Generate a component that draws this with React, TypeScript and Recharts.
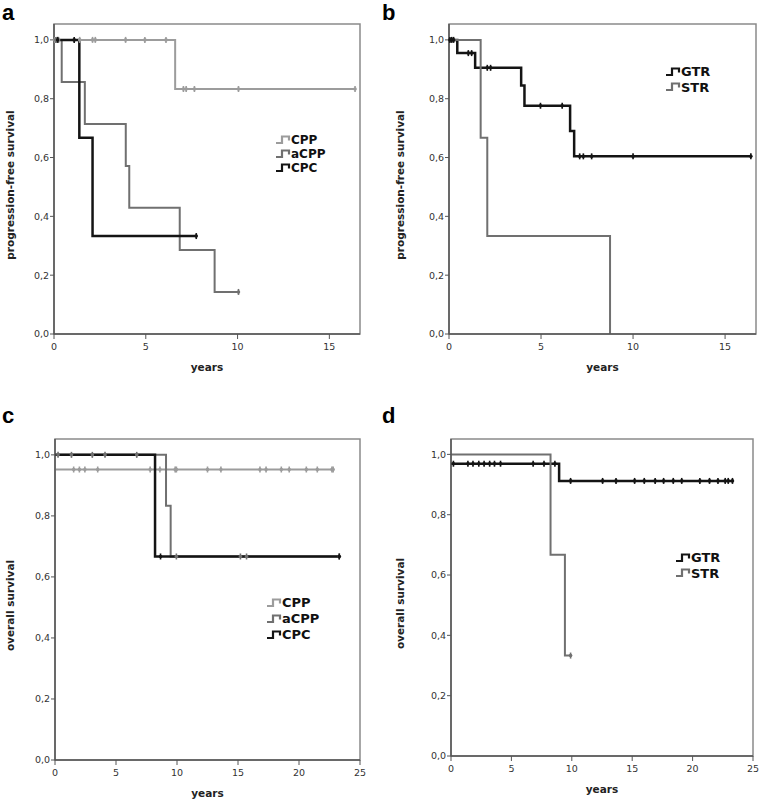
import React from "react";
import { LineChart, Line, XAxis, YAxis, ReferenceArea, Label } from "recharts";

// [time in years, survival, censored (1) or event (0)]
type KM = [number, number, number];

// a – progression-free survival by histology
const pfsCPP: KM[] = [
  [0, 1, 0], [0.05, 1, 1], [0.15, 1, 1], [0.25, 1, 1], [1.4, 1, 1], [2.1, 1, 1], [2.25, 1, 1],
  [3.9, 1, 1], [4.95, 1, 1], [6.1, 1, 1], [6.6, 0.833, 0], [7.05, 0.833, 1], [7.2, 0.833, 1],
  [7.65, 0.833, 1], [10.05, 0.833, 1], [16.4, 0.833, 1],
];
const pfsACPP: KM[] = [
  [0, 1, 0], [0.1, 1, 1], [0.42, 0.857, 0], [1.68, 0.714, 0], [3.91, 0.571, 0], [4.1, 0.429, 0],
  [6.85, 0.286, 0], [8.75, 0.143, 0], [10.05, 0.143, 1],
];
const pfsCPC: KM[] = [
  [0, 1, 0], [0.2, 1, 1], [1.1, 1, 1], [1.38, 0.667, 0], [2.1, 0.333, 0], [7.75, 0.333, 1],
];

// b – progression-free survival by extent of resection
const pfsGTR: KM[] = [
  [0, 1, 0], [0.05, 1, 1], [0.15, 1, 1], [0.25, 1, 1], [0.45, 0.955, 0], [1.05, 0.955, 1],
  [1.23, 0.955, 1], [1.42, 0.905, 0], [2.08, 0.905, 1], [2.26, 0.905, 1], [3.92, 0.845, 0],
  [4.1, 0.776, 0], [4.97, 0.776, 1], [6.15, 0.776, 1], [6.58, 0.69, 0], [6.8, 0.604, 0],
  [7.1, 0.604, 1], [7.3, 0.604, 1], [7.75, 0.604, 1], [10.0, 0.604, 1], [16.4, 0.604, 1],
];
const pfsSTR: KM[] = [
  [0, 1, 0], [1.72, 0.667, 0], [2.08, 0.333, 0], [8.75, 0, 0],
];

// c – overall survival by histology
const osCPP: KM[] = [
  [0, 0.952, 0], [1.53, 0.952, 1], [2.0, 0.952, 1], [2.45, 0.952, 1], [3.5, 0.952, 1],
  [7.8, 0.952, 1], [8.6, 0.952, 1], [9.85, 0.952, 1], [9.95, 0.952, 1], [12.5, 0.952, 1],
  [13.6, 0.952, 1], [16.8, 0.952, 1], [17.3, 0.952, 1], [18.55, 0.952, 1], [19.2, 0.952, 1],
  [20.6, 0.952, 1], [21.5, 0.952, 1], [22.7, 0.952, 1], [22.8, 0.952, 1],
];
const osACPP: KM[] = [
  [0, 1, 0], [0.25, 1, 1], [1.35, 1, 1], [3.06, 1, 1], [4.1, 1, 1], [6.7, 1, 1],
  [9.1, 0.833, 0], [9.48, 0.667, 0], [9.95, 0.667, 1], [15.2, 0.667, 1], [15.7, 0.667, 1],
  [23.3, 0.667, 1],
];
const osCPC: KM[] = [
  [0, 1, 0], [8.2, 0.667, 0], [8.65, 0.667, 1], [23.3, 0.667, 1],
];

// d – overall survival by extent of resection
const osGTR: KM[] = [
  [0, 0.969, 0], [0.2, 0.969, 1], [1.4, 0.969, 1], [1.82, 0.969, 1], [2.3, 0.969, 1],
  [2.74, 0.969, 1], [3.2, 0.969, 1], [3.6, 0.969, 1], [4.1, 0.969, 1], [6.8, 0.969, 1],
  [7.7, 0.969, 1], [8.6, 0.969, 1], [8.95, 0.912, 0], [9.9, 0.912, 1], [12.55, 0.912, 1],
  [13.66, 0.912, 1], [15.2, 0.912, 1], [16.0, 0.912, 1], [16.9, 0.912, 1], [17.6, 0.912, 1],
  [18.4, 0.912, 1], [19.1, 0.912, 1], [20.6, 0.912, 1], [21.4, 0.912, 1], [22.1, 0.912, 1],
  [22.7, 0.912, 1], [22.95, 0.912, 1], [23.3, 0.912, 1],
];
const osSTR: KM[] = [
  [0, 1, 0], [8.24, 0.667, 0], [9.43, 0.333, 0], [9.9, 0.333, 1],
];

const yTicks = [0, 0.2, 0.4, 0.6, 0.8, 1.0];
const pfsXTicks = [0, 5, 10, 15];
const osXTicks = [0, 5, 10, 15, 20, 25];

const LIGHT = "#9c9c9c";
const MID = "#707070";
const DARK = "#141414";
const FONT = "DejaVu Sans, Verdana, sans-serif";

interface Series {
  name: string;
  points: KM[];
  color: string;
  width: number;
}

interface PanelProps {
  letter: string;
  left: number;
  top: number;
  width: number;
  height: number;
  margin: { top: number; right: number; bottom: number; left: number };
  yWidth: number;
  xMax: number;
  yMax: number;
  xTicks: number[];
  yLabel: string;
  yLabelX: number;
  series: Series[];
  legend: { x: number; y: number; rowH: number; font: number };
  letterTop: number;
}

const toData = (pts: KM[]) => pts.map(([t, s, c]) => ({ t, s, c }));

// SPSS-style censor tick
const censorDot = (color: string) => (props: any) => {
  const { cx, cy, payload, index } = props;
  if (!payload || !payload.c) return <g key={`n${index}`} />;
  return (
    <g key={`c${index}`}>
      <line x1={cx} x2={cx} y1={cy - 3} y2={cy + 3} stroke={color} strokeWidth={1.6} />
      <circle cx={cx} cy={cy} r={1.8} fill={color} />
    </g>
  );
};

function LegendIcon({ color }: { color: string }) {
  return (
    <svg width={15} height={12} style={{ display: "block", flex: "none" }}>
      <path d="M0,9 H6 V2.5 H13 V6.5" fill="none" stroke={color} strokeWidth={2.2} />
    </svg>
  );
}

function Panel(p: PanelProps) {
  return (
    <div style={{ position: "absolute", left: p.left, top: p.top, width: p.width, height: p.height }}>
      <LineChart width={p.width} height={p.height} margin={p.margin}>
        <ReferenceArea
          x1={0}
          x2={p.xMax}
          y1={0}
          y2={p.yMax}
          fill="none"
          stroke="#8a8a8a"
          strokeWidth={1.5}
        />
        <XAxis
          type="number"
          dataKey="t"
          domain={[0, p.xMax]}
          ticks={p.xTicks}
          height={30}
          tickSize={5}
          tickMargin={4}
          axisLine={{ stroke: "#555", strokeWidth: 1.5 }}
          tickLine={{ stroke: "#555" }}
          tick={{ fill: "#333", fontSize: 9.5, fontFamily: FONT }}
        >
          <Label
            content={(lp: any) => {
              const vb = lp.viewBox;
              return (
                <text
                  x={vb.x + vb.width / 2}
                  y={vb.y + 37}
                  textAnchor="middle"
                  fontFamily={FONT}
                  fontWeight="bold"
                  fontSize={10.5}
                  fill="#222"
                >
                  years
                </text>
              );
            }}
          />
        </XAxis>
        <YAxis
          type="number"
          domain={[0, p.yMax]}
          ticks={yTicks}
          width={p.yWidth}
          tickSize={4}
          tickMargin={1}
          tickFormatter={(v: number) => v.toFixed(1).replace(".", ",")}
          axisLine={{ stroke: "#555", strokeWidth: 1.5 }}
          tickLine={{ stroke: "#555" }}
          tick={{ fill: "#333", fontSize: 9.5, fontFamily: FONT }}
        >
          <Label
            content={(lp: any) => {
              const vb = lp.viewBox;
              const cy = vb.y + vb.height / 2 + 6;
              return (
                <text
                  x={p.yLabelX}
                  y={cy}
                  transform={`rotate(-90, ${p.yLabelX}, ${cy})`}
                  textAnchor="middle"
                  dominantBaseline="central"
                  fontFamily={FONT}
                  fontWeight="bold"
                  fontSize={10.5}
                  fill="#222"
                >
                  {p.yLabel}
                </text>
              );
            }}
          />
        </YAxis>
        {p.series.map((s) => (
          <Line
            key={s.name}
            data={toData(s.points)}
            dataKey="s"
            type="stepAfter"
            stroke={s.color}
            strokeWidth={s.width}
            dot={censorDot(s.color)}
            activeDot={false}
            isAnimationActive={false}
          />
        ))}
      </LineChart>
      <div
        style={{
          position: "absolute",
          left: p.legend.x,
          top: p.legend.y,
          fontFamily: FONT,
          fontWeight: "bold",
          fontSize: p.legend.font,
          color: "#111",
        }}
      >
        {p.series.map((s) => (
          <div key={s.name} style={{ display: "flex", alignItems: "center", height: p.legend.rowH }}>
            <LegendIcon color={s.color} />
            <span style={{ lineHeight: `${p.legend.rowH}px` }}>{s.name}</span>
          </div>
        ))}
      </div>
      <div
        style={{
          position: "absolute",
          left: 2,
          top: p.letterTop,
          fontFamily: "Liberation Sans, Arial, sans-serif",
          fontWeight: "bold",
          fontSize: 22,
          lineHeight: "26px",
          color: "#000",
        }}
      >
        {p.letter}
      </div>
    </div>
  );
}

export default function App() {
  return (
    <div style={{ position: "absolute", left: 0, top: 0, width: 761, height: 801, background: "#fff" }}>
      <Panel
        letter="a"
        letterTop={0}
        left={0}
        top={0}
        width={380}
        height={400}
        margin={{ top: 24, right: 20, bottom: 36, left: 0 }}
        yWidth={54}
        xMax={16.67}
        yMax={1.054}
        xTicks={pfsXTicks}
        yLabel="progression-free survival"
        yLabelX={10}
        series={[
          { name: "CPP", points: pfsCPP, color: LIGHT, width: 2 },
          { name: "aCPP", points: pfsACPP, color: MID, width: 2 },
          { name: "CPC", points: pfsCPC, color: DARK, width: 2.5 },
        ]}
        legend={{ x: 276, y: 133, rowH: 14, font: 12 }}
      />
      <Panel
        letter="b"
        letterTop={0}
        left={380}
        top={0}
        width={381}
        height={400}
        margin={{ top: 24, right: 5, bottom: 36, left: 0 }}
        yWidth={69}
        xMax={16.68}
        yMax={1.054}
        xTicks={pfsXTicks}
        yLabel="progression-free survival"
        yLabelX={20}
        series={[
          { name: "GTR", points: pfsGTR, color: DARK, width: 2.5 },
          { name: "STR", points: pfsSTR, color: MID, width: 2 },
        ]}
        legend={{ x: 286, y: 64, rowH: 15.6, font: 13 }}
      />
      <Panel
        letter="c"
        letterTop={3}
        left={0}
        top={400}
        width={380}
        height={401}
        margin={{ top: 39, right: 20, bottom: 11, left: 0 }}
        yWidth={55}
        xMax={25}
        yMax={1.052}
        xTicks={osXTicks}
        yLabel="overall survival"
        yLabelX={10}
        series={[
          { name: "CPP", points: osCPP, color: LIGHT, width: 2 },
          { name: "aCPP", points: osACPP, color: MID, width: 2 },
          { name: "CPC", points: osCPC, color: DARK, width: 2.5 },
        ]}
        legend={{ x: 267, y: 195, rowH: 16, font: 13 }}
      />
      <Panel
        letter="d"
        letterTop={3}
        left={380}
        top={400}
        width={381}
        height={401}
        margin={{ top: 39, right: 8, bottom: 15, left: 0 }}
        yWidth={71}
        xMax={25}
        yMax={1.051}
        xTicks={osXTicks}
        yLabel="overall survival"
        yLabelX={20}
        series={[
          { name: "GTR", points: osGTR, color: DARK, width: 2.5 },
          { name: "STR", points: osSTR, color: MID, width: 2 },
        ]}
        legend={{ x: 296, y: 150, rowH: 15.6, font: 13 }}
      />
    </div>
  );
}
